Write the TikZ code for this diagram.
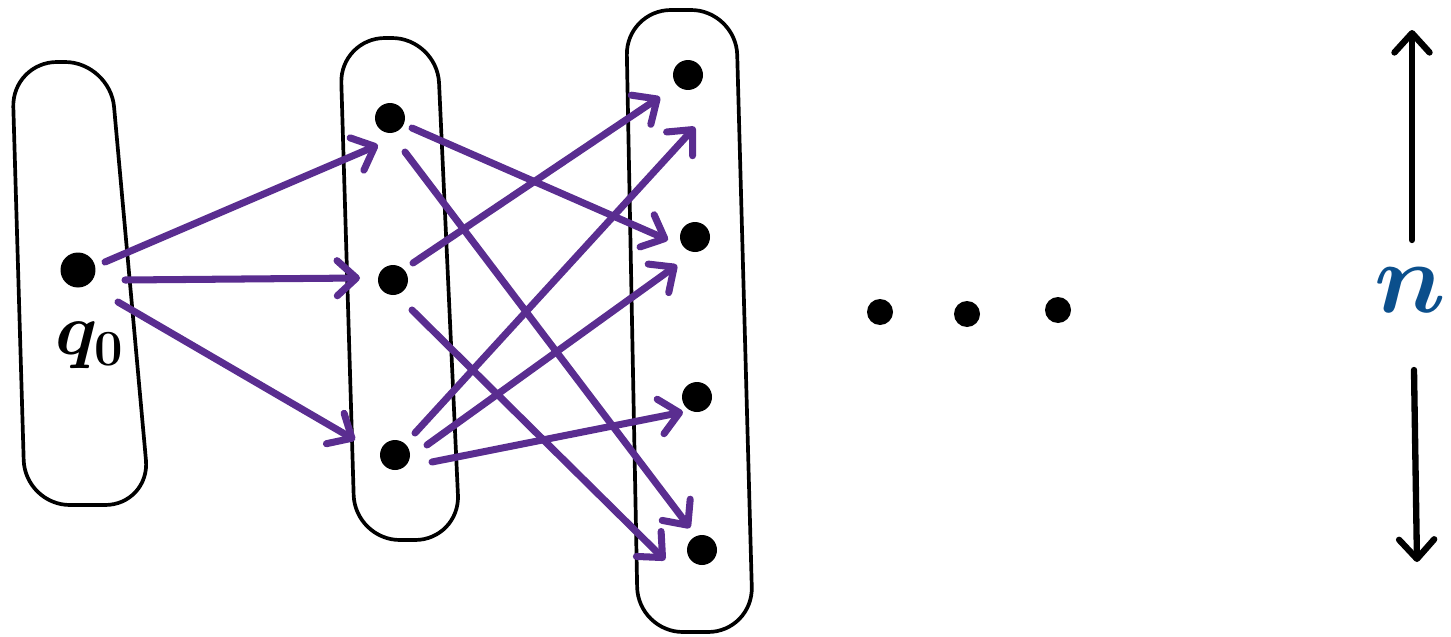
\documentclass[tikz,border=0pt]{standalone}
\usepackage{amsmath,amssymb}
\usetikzlibrary{arrows.meta,calc}
\definecolor{violetF}{HTML}{5A2D90}
\definecolor{bleuN}{HTML}{0B4F8C}

\begin{document}
\begin{tikzpicture}[x=0.02cm, y=-0.02cm,
  >={Straight Barb[round, length=11pt, width=20pt]},
  etat/.style={circle, fill=black, inner sep=0pt, minimum size=0.6cm},
  boite/.style={draw=black, line width=2.1pt, rounded corners=0.9cm},
  fleche/.style={->, draw=violetF, line width=4pt, line cap=round, line join=round},
  fleche n/.style={->, draw=black, line width=3.6pt, line cap=round, line join=round}]

  \useasboundingbox (0,0) rectangle (1451,636);

  % ==========================================
  % COLONNES (les trois boîtes)
  % ==========================================
  \draw[boite] (12,62) -- (110,62) -- (150,505) -- (25,505) -- cycle;
  \draw[boite] (340,38) -- (437,38) -- (460,540) -- (355,540) -- cycle;
  \draw[boite] (626,10) -- (736,10) -- (753,632) -- (638,632) -- cycle;

  % ==========================================
  % ETATS
  % ==========================================
  \node[etat, minimum size=0.7cm] (q0) at (78,270) {};
  \node[font=\huge\boldmath, scale=2] (lq0) at (90,345) {$q_0$};

  \node[etat] (a1) at (390,118) {};
  \node[etat] (a2) at (393,280) {};
  \node[etat] (a3) at (395,455) {};

  \node[etat] (b1) at (688,75) {};
  \node[etat] (b2) at (695,237) {};
  \node[etat] (b3) at (697,397) {};
  \node[etat] (b4) at (702,550) {};

  % Points de suspension
  \node[etat, minimum size=0.52cm] (p1) at (880,312) {};
  \node[etat, minimum size=0.52cm] (p2) at (967,314) {};
  \node[etat, minimum size=0.52cm] (p3) at (1058,310) {};

  % ==========================================
  % TRANSITIONS
  % ==========================================
  % depuis q0
  \draw[fleche] ($(q0)+(27,-8)$) -- ($(a1)+(-12,27)$);
  \draw[fleche] ($(q0)+(47,10)$) -- ($(a2)+(-33,-2)$);
  \draw[fleche] ($(q0)+(40,32)$) -- ($(a3)+(-40,-15)$);

  % colonne 1 -> colonne 2
  \draw[fleche] ($(a1)+(22,10)$) -- ($(b2)+(-27,3)$);
  \draw[fleche] ($(a1)+(15,34)$) -- ($(b4)+(-12,-22)$);
  \draw[fleche] ($(a2)+(20,-17)$) -- ($(b1)+(-28,22)$);
  \draw[fleche] ($(a2)+(19,30)$) -- ($(b4)+(-37,10)$);
  \draw[fleche] ($(a3)+(20,-22)$) -- ($(b1)+(7,52)$);
  \draw[fleche] ($(a3)+(32,-10)$) -- ($(b2)+(-18,28)$);
  \draw[fleche] ($(a3)+(37,7)$) -- ($(b3)+(-14,15)$);

  % ==========================================
  % HAUTEUR n
  % ==========================================
  \node[bleuN, font=\Huge\boldmath, scale=2.3, inner sep=1pt] (n) at (1410,290) {$n$};
  \coordinate (nhaut) at (1412,30);
  \coordinate (nbas) at (1417,562);
  \draw[fleche n] ($(n)+(2,-50)$) -- (nhaut);
  \draw[fleche n] ($(n)+(4,80)$) -- (nbas);

\end{tikzpicture}
\end{document}
